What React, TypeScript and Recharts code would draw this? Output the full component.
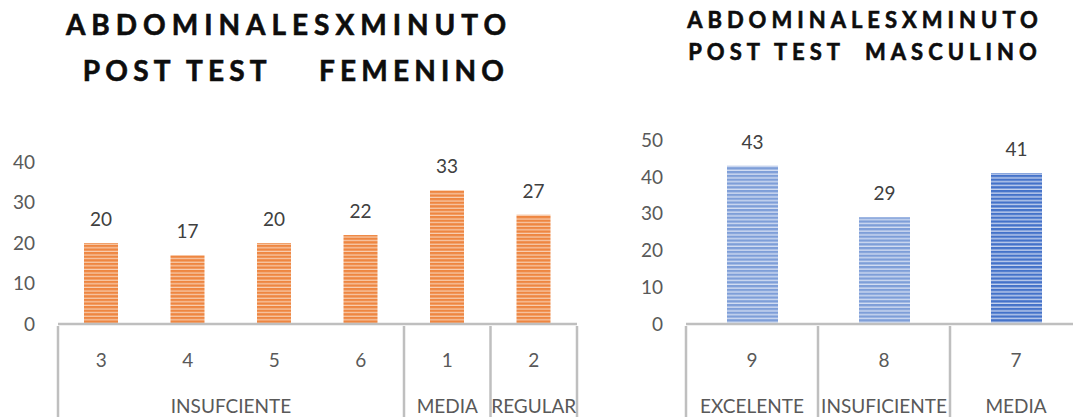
import React from 'react';
import { BarChart, Bar, XAxis, YAxis, LabelList, Cell } from 'recharts';

// left chart (femenino)
const femCodes = ['3', '4', '5', '6', '1', '2'];
const femGroups = ['INSUFCIENTE', 'INSUFCIENTE', 'INSUFCIENTE', 'INSUFCIENTE', 'MEDIA', 'REGULAR'];
const femValues = [20, 17, 20, 22, 33, 27];
const femTicks = [0, 10, 20, 30, 40];

// right chart (masculino)
const mascCodes = ['9', '8', '7'];
const mascGroups = ['EXCELENTE', 'INSUFICIENTE', 'MEDIA'];
const mascValues = [43, 29, 41];
const mascTicks = [0, 10, 20, 30, 40, 50];

const FONT = "Lato, 'Open Sans', sans-serif";
const GRID = '#BFBFBF';
const TICK_COLOR = '#595959';
const FS = 19;
const CODE_H = 49;
const GROUP_H = 44;

function makeGroupTick(groups: string[], step: number) {
  return (props: any) => {
    const { x, y, index } = props;
    const start = index === 0 || groups[index] !== groups[index - 1];
    if (!start) return <g />;
    let n = 1;
    while (index + n < groups.length && groups[index + n] === groups[index]) n++;
    const left = x - step / 2;
    const isLast = index + n === groups.length;
    return (
      <g>
        <line x1={left} y1={y - CODE_H} x2={left} y2={y + GROUP_H} stroke={GRID} strokeWidth={2.5} />
        {isLast && (
          <line
            x1={left + n * step}
            y1={y - CODE_H}
            x2={left + n * step}
            y2={y + GROUP_H}
            stroke={GRID}
            strokeWidth={2.5}
          />
        )}
        <text
          x={left + (n * step) / 2}
          y={y + 38}
          textAnchor="middle"
          fill={TICK_COLOR}
          fontSize={FS}
          fontFamily={FONT}
        >
          {groups[index]}
        </text>
      </g>
    );
  };
}

const CodeTick = (props: any) => {
  const { x, y, payload } = props;
  return (
    <text x={x} y={y + 41} textAnchor="middle" fill={TICK_COLOR} fontSize={FS} fontFamily={FONT}>
      {payload.value}
    </text>
  );
};

interface PanelProps {
  codes: string[];
  groups: string[];
  values: number[];
  ticks: number[];
  width: number;
  yAxisWidth: number;
  plotWidth: number;
  top: number;
  barSize: number;
  fills: string[];
}

function Panel({ codes, groups, values, ticks, width, yAxisWidth, plotWidth, top, barSize, fills }: PanelProps) {
  const data = codes.map((c, i) => ({ code: c, value: values[i] }));
  const step = plotWidth / codes.length;
  return (
    <BarChart
      width={width}
      height={417}
      data={data}
      margin={{ top, right: width - yAxisWidth - plotWidth, bottom: 0, left: 0 }}
    >
      <XAxis
        dataKey="code"
        height={CODE_H}
        axisLine={{ stroke: GRID, strokeWidth: 2.5 }}
        tickLine={false}
        tickSize={0}
        tick={<CodeTick />}
        interval={0}
      />
      <XAxis
        xAxisId="grp"
        dataKey="code"
        height={GROUP_H}
        axisLine={false}
        tickLine={false}
        tickSize={0}
        tick={makeGroupTick(groups, step)}
        interval={0}
      />
      <YAxis
        width={yAxisWidth}
        domain={[0, ticks[ticks.length - 1]]}
        ticks={ticks}
        axisLine={false}
        tickLine={false}
        tickSize={0}
        tickMargin={23}
        tick={{ fill: TICK_COLOR, fontSize: FS, fontFamily: FONT }}
      />
      <Bar dataKey="value" barSize={barSize} isAnimationActive={false}>
        {data.map((d, i) => (
          <Cell key={d.code} fill={fills[i]} />
        ))}
        <LabelList
          dataKey="value"
          position="top"
          offset={17}
          fill="#404040"
          fontSize={FS}
          fontFamily={FONT}
        />
      </Bar>
    </BarChart>
  );
}

const NB = '\u00A0';

export default function App() {
  return (
    <div
      style={{
        position: 'absolute',
        left: 0,
        top: 0,
        width: 1073,
        height: 417,
        overflow: 'hidden',
        background: '#fff',
      }}
    >
      <svg width={0} height={0} style={{ position: 'absolute' }}>
        <defs>
          <pattern id="orangeStripe" width={8} height={3.6} patternUnits="userSpaceOnUse">
            <rect width={8} height={3.6} fill="#EE8641" />
            <rect y={2.4} width={8} height={1.2} fill="#F8CFB2" />
          </pattern>
          <pattern id="blueLight" width={8} height={3.8} patternUnits="userSpaceOnUse">
            <rect width={8} height={3.8} fill="#7E9ED8" />
            <rect y={2.4} width={8} height={1.4} fill="#D2DDF2" />
          </pattern>
          <pattern id="blueDark" width={8} height={3.8} patternUnits="userSpaceOnUse">
            <rect width={8} height={3.8} fill="#4472C9" />
            <rect y={2.4} width={8} height={1.4} fill="#C3D1EE" />
          </pattern>
        </defs>
      </svg>

      <svg width={1073} height={100} style={{ position: 'absolute', left: 0, top: 0 }}>
        <g fontFamily={FONT} fontWeight={700} fill="#0D0D0D" stroke="#0D0D0D" strokeWidth={0.6}>
          <text x={289} y={35} textAnchor="middle" fontSize={28} letterSpacing={6}>
            ABDOMINALESXMINUTO
          </text>
          <text x={296} y={81} textAnchor="middle" fontSize={28} letterSpacing={5.2}>
            {`POST TEST${NB}${NB}${NB}${NB}FEMENINO`}
          </text>
          <text x={865} y={28} textAnchor="middle" fontSize={22} letterSpacing={5}>
            ABDOMINALESXMINUTO
          </text>
          <text x={865} y={60} textAnchor="middle" fontSize={22} letterSpacing={5}>
            {`POST TEST${NB}${NB}MASCULINO`}
          </text>
        </g>
      </svg>

      <div style={{ position: 'absolute', left: 0, top: 0 }}>
        <Panel
          codes={femCodes}
          groups={femGroups}
          values={femValues}
          ticks={femTicks}
          width={590}
          yAxisWidth={58}
          plotWidth={519}
          top={162}
          barSize={34}
          fills={femCodes.map(() => 'url(#orangeStripe)')}
        />
      </div>
      <div style={{ position: 'absolute', left: 600, top: 0 }}>
        <Panel
          codes={mascCodes}
          groups={mascGroups}
          values={mascValues}
          ticks={mascTicks}
          width={482}
          yAxisWidth={86}
          plotWidth={396}
          top={140}
          barSize={51}
          fills={['url(#blueLight)', 'url(#blueLight)', 'url(#blueDark)']}
        />
      </div>
    </div>
  );
}
